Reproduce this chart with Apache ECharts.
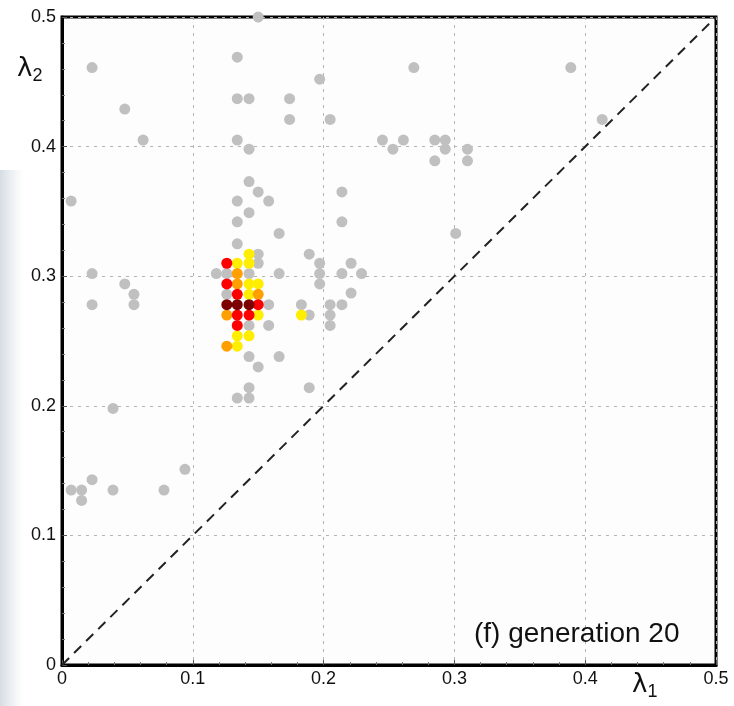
<!DOCTYPE html>
<html>
<head>
<meta charset="utf-8">
<script src="https://cdn.jsdelivr.net/npm/echarts@6/dist/echarts.min.js"></script>
<style>
html,body{margin:0;padding:0;background:#ffffff;}
#chart{width:734px;height:706px;}
</style>
</head>
<body>
<div id="chart"></div>
<script>
// Axis ticks
const xTicks = [0, 0.1, 0.2, 0.3, 0.4, 0.5];
const yTicks = [0, 0.1, 0.2, 0.3, 0.4, 0.5];

// Gray population points [lambda1, lambda2]
const grayPoints = [
  [0.150,0.500],[0.023,0.461],[0.134,0.469],[0.197,0.452],[0.134,0.437],[0.143,0.437],
  [0.174,0.437],[0.048,0.429],[0.174,0.421],[0.205,0.421],[0.062,0.405],[0.134,0.405],
  [0.143,0.398],[0.007,0.358],[0.143,0.373],[0.150,0.365],[0.214,0.365],[0.134,0.358],
  [0.158,0.358],[0.143,0.349],[0.134,0.342],[0.214,0.342],[0.166,0.333],[0.134,0.325],
  [0.150,0.317],[0.189,0.317],[0.150,0.310],[0.197,0.310],[0.221,0.310],[0.023,0.302],
  [0.118,0.302],[0.126,0.302],[0.143,0.302],[0.166,0.302],[0.197,0.302],[0.214,0.302],
  [0.229,0.302],[0.048,0.294],[0.197,0.294],[0.055,0.286],[0.126,0.286],[0.221,0.287],
  [0.023,0.278],[0.055,0.278],[0.158,0.278],[0.183,0.278],[0.205,0.278],[0.214,0.278],
  [0.189,0.270],[0.205,0.270],[0.143,0.262],[0.158,0.262],[0.205,0.262],[0.143,0.238],
  [0.166,0.238],[0.150,0.230],[0.189,0.214],[0.143,0.214],[0.134,0.206],[0.143,0.206],
  [0.039,0.198],[0.094,0.151],[0.023,0.143],[0.007,0.135],[0.015,0.135],[0.039,0.135],
  [0.078,0.135],[0.015,0.127],[0.269,0.461],[0.389,0.461],[0.413,0.421],[0.245,0.405],
  [0.261,0.405],[0.285,0.405],[0.293,0.405],[0.253,0.398],[0.293,0.398],[0.310,0.398],
  [0.285,0.389],[0.310,0.389],[0.301,0.333]
];

// Coloured (elite) points
const darkRedPoints = [[0.126,0.278],[0.134,0.278],[0.143,0.278]];
const redPoints = [[0.126,0.310],[0.126,0.294],[0.134,0.286],[0.150,0.278],[0.134,0.270],[0.143,0.270],[0.134,0.262]];
const orangePoints = [[0.134,0.302],[0.134,0.294],[0.150,0.286],[0.126,0.270],[0.126,0.246]];
const yellowPoints = [[0.143,0.317],[0.134,0.310],[0.143,0.310],[0.143,0.294],[0.150,0.294],[0.143,0.286],
  [0.150,0.270],[0.183,0.270],[0.134,0.254],[0.143,0.254],[0.134,0.246]];

// Diagonal reference line
const diagonal = [[0,0],[0.5,0.5]];

const chart = echarts.init(document.getElementById('chart'), null, {renderer:'canvas'});
const FONT = 'Liberation Sans, Arial, sans-serif';

function axisCommon(){
  return {
    type:'value', min:0, max:0.5, interval:0.1,
    axisLine:{show:true, lineStyle:{color:'#000', width:3}},
    axisTick:{show:true, inside:true, length:5, lineStyle:{color:'#555', width:1}},
    minorTick:{show:true, splitNumber:5, length:3, lineStyle:{color:'#777', width:1}},
    splitLine:{show:true, lineStyle:{color:'#b4b4b4', width:1, type:[3,5]}},
    axisLabel:{color:'#111', fontFamily:FONT, fontSize:18,
      formatter: v => (Math.round(v*10)/10).toString()}
  };
}

const xAxis = axisCommon();
xAxis.axisLabel.margin = 5;
const yAxis = axisCommon();
yAxis.axisLabel.margin = 6;

function sc(name, data, color, z){
  return {
    name, type:'scatter', data, symbol:'circle', symbolSize:11, z,
    itemStyle:{color, opacity:1},
    emphasis:{disabled:true}, animation:false
  };
}

const LAMBDA_FONT = 'DejaVu Sans, Liberation Sans, sans-serif';

chart.setOption({
  animation:false,
  backgroundColor:'#ffffff',
  grid:{left:62, top:17, right:18, bottom:41, show:true, borderColor:'#000', borderWidth:3, backgroundColor:'#fdfdfd'},
  xAxis, yAxis,
  series:[
    {type:'line', data:diagonal, showSymbol:false, z:5,
     lineStyle:{color:'#222', width:2, type:[10,7]}, animation:false, silent:true},
    sc('gray', grayPoints, '#c0c0c0', 3),
    sc('yellow', yellowPoints, '#ffee00', 6),
    sc('orange', orangePoints, '#ff9f00', 6),
    sc('red', redPoints, '#ff0000', 6),
    sc('darkred', darkRedPoints, '#7d0000', 6)
  ],
  graphic:[
    {type:'rect', left:0, top:170, z:-10, silent:true,
     shape:{width:24, height:536},
     style:{fill:new echarts.graphic.LinearGradient(0,0,1,0,[
       {offset:0,color:'rgba(170,185,200,0.5)'},{offset:1,color:'rgba(200,210,220,0)'}])}},
    {type:'text', left:474, top:620, z:20, silent:true,
     style:{text:'(f) generation 20', fill:'#111', font:'28px Liberation Sans, Arial, sans-serif'}},
    {type:'text', left:17, top:56, z:20, silent:true,
     style:{text:'{l|λ}{s|2}', rich:{
       l:{fontSize:26, fontFamily:LAMBDA_FONT, fill:'#111'},
       s:{fontSize:18, fontFamily:FONT, fill:'#111', verticalAlign:'bottom', padding:[14,0,0,0]}}}},
    {type:'text', left:632, top:672, z:20, silent:true,
     style:{text:'{l|λ}{s|1}', rich:{
       l:{fontSize:26, fontFamily:LAMBDA_FONT, fill:'#111'},
       s:{fontSize:18, fontFamily:FONT, fill:'#111', verticalAlign:'bottom', padding:[14,0,0,0]}}}}
  ]
});
</script>
</body>
</html>
